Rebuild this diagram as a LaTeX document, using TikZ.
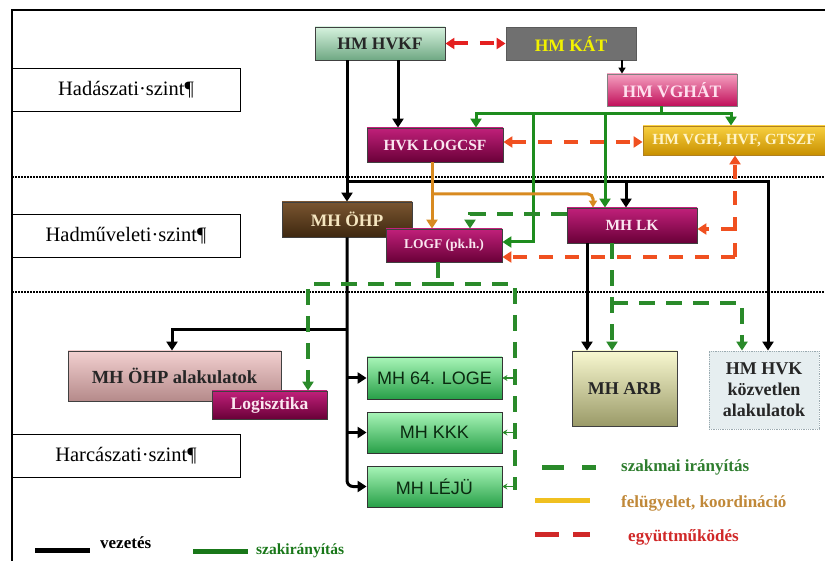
\documentclass[tikz,border=0pt]{standalone}
\usepackage{fontspec}
\setmainfont{Liberation Serif}
\newfontfamily\arialf{Liberation Sans}
\usetikzlibrary{arrows.meta,calc}
\definecolor{cVez}{HTML}{000000}
\definecolor{cSzak}{HTML}{1E8C1E}
\definecolor{cFel}{HTML}{D88A20}
\definecolor{cEgy}{HTML}{E42020}
\definecolor{cEgyB}{HTML}{F05020}
\definecolor{cSzm}{HTML}{2A8A2A}
\definecolor{hvT}{HTML}{D6F2DE}\definecolor{hvM}{HTML}{A8DDB8}\definecolor{hvB}{HTML}{6FA883}
\definecolor{katF}{HTML}{707070}\definecolor{katT}{HTML}{F2F200}
\definecolor{vgT}{HTML}{F5A0C0}\definecolor{vgM}{HTML}{EE1075}\definecolor{vgB}{HTML}{C0105A}\definecolor{vgX}{HTML}{FFE0EE}
\definecolor{mgT}{HTML}{C0207A}\definecolor{mgM}{HTML}{9A0A55}\definecolor{mgB}{HTML}{6A0038}\definecolor{mgX}{HTML}{FBE6F0}
\definecolor{yeT}{HTML}{F8D040}\definecolor{yeM}{HTML}{E8B000}\definecolor{yeB}{HTML}{C89000}\definecolor{yeX}{HTML}{FFF4C8}\definecolor{yeD}{HTML}{B08020}
\definecolor{brT}{HTML}{7A5530}\definecolor{brM}{HTML}{5A3A1A}\definecolor{brB}{HTML}{3E2810}\definecolor{brX}{HTML}{F5E6C0}
\definecolor{alT}{HTML}{F2D0D0}\definecolor{alM}{HTML}{DDAAAA}\definecolor{alB}{HTML}{B58A8A}
\definecolor{grT}{HTML}{A8F5B8}\definecolor{grM}{HTML}{50D070}\definecolor{grB}{HTML}{28A048}\definecolor{grX}{HTML}{0A2A10}
\definecolor{arT}{HTML}{F8F8D0}\definecolor{arM}{HTML}{D8D8A8}\definecolor{arB}{HTML}{9A9A68}
\definecolor{kzF}{HTML}{E6EEF0}\definecolor{kzD}{HTML}{9AAAB0}
\definecolor{lgSzm}{HTML}{2E7D2E}\definecolor{lgFel}{HTML}{C08838}\definecolor{lgEgy}{HTML}{D02828}\definecolor{lgYel}{HTML}{F0C020}
\tikzset{
  box/.style={draw=black!75, line width=0.8pt, inner sep=0pt, align=center,
    font=\bfseries\fontsize{17.5}{19.5}\selectfont},
  lvl/.style={draw=black, line width=0.8pt, fill=white, minimum width=228pt, minimum height=43pt,
    inner sep=0pt, font=\fontsize{20.5}{22}\selectfont},
  mag/.style={box, top color=mgT, middle color=mgM, bottom color=mgB, text=mgX},
  grn/.style={box, top color=grT, middle color=grM, bottom color=grB, text=grX,
    minimum width=135pt, font=\arialf\fontsize{18}{20}\selectfont, draw=black!80},
  tipA/.tip={Triangle[length=9pt,width=11pt]},
  vez/.style={draw=cVez, line width=3pt},
  szak/.style={draw=cSzak, line width=3pt},
  felug/.style={draw=cFel, line width=3pt},
  egy/.style={draw=cEgy, line width=4pt, dash pattern=on 14pt off 12pt},
  egyb/.style={draw=cEgyB, line width=3.5pt, dash pattern=on 14pt off 12pt},
  szm/.style={draw=cSzm, line width=3.5pt, dash pattern=on 16pt off 11pt},
  small/.style={draw=cSzm, line width=1.5pt, -{Stealth[length=5pt,width=6pt]}},
  leg/.style={anchor=west, inner sep=0pt, font=\bfseries\fontsize{17}{19}\selectfont}
}
\begin{document}
\begin{tikzpicture}[x=1pt,y=-1pt]
\useasboundingbox (0,0) rectangle (825,561);
% frame and level separators
\draw[line width=1.5pt] (825,10) -- (12,10) -- (12,561);
\draw[line width=2pt, dash pattern=on 1.5pt off 1.5pt] (12,177) -- (825,177);
\draw[line width=2pt, dash pattern=on 1.5pt off 1.5pt] (12,292) -- (825,292);
% level labels
\node[lvl] (l1) at (126,89.5) {Hadászati·szint¶};
\node[lvl] (l2) at (126,236) {Hadműveleti·szint¶};
\node[lvl] (l3) at (126,455.5) {Harcászati·szint¶};
% nodes
\node[box, minimum width=130pt, minimum height=33pt, top color=hvT, middle color=hvM, bottom color=hvB, text=black!85] (hvkf) at (380,43.5) {HM HVKF};
\node[box, minimum width=130pt, minimum height=33pt, fill=katF, draw=katF!80!black, text=katT] (kat) at (571,43.5) {HM KÁT};
\node[box, minimum width=130pt, minimum height=32pt, top color=vgT, middle color=vgM, bottom color=vgB, text=vgX, draw=black!50] (vghat) at (672,90) {HM VGHÁT};
\node[mag, minimum width=136pt, minimum height=34pt, font=\bfseries\fontsize{15.5}{17}\selectfont] (logcsf) at (435,145) {HVK LOGCSF};
\node[box, minimum width=182pt, minimum height=29pt, top color=yeT, middle color=yeM, bottom color=yeB, text=yeX, draw=yeD, font=\bfseries\fontsize{15.5}{17}\selectfont] (vgh) at (734,140.5) {HM VGH, HVF, GTSZF};
\node[box, minimum width=130pt, minimum height=35pt, top color=brT, middle color=brM, bottom color=brB, text=brX] (ohp) at (347,219.5) {MH ÖHP};
\node[mag, minimum width=130pt, minimum height=35pt, font=\bfseries\fontsize{15.5}{17}\selectfont] (lk) at (632,225.5) {MH LK};
\node[mag, minimum width=116pt, minimum height=33pt, font=\bfseries\fontsize{13.5}{15}\selectfont] (logf) at (444,245.5) {LOGF (pk.h.)};
\node[box, minimum width=213pt, minimum height=50pt, top color=alT, middle color=alM, bottom color=alB, text=black!85, font=\bfseries\fontsize{18.5}{20}\selectfont] (ohpal) at (174.5,376) {MH ÖHP alakulatok};
\node[mag, minimum width=115pt, minimum height=28pt] (logiszt) at (269.5,405) {Logisztika};
\node[grn, minimum height=42pt] (loge) at (434.5,378) {MH 64. LOGE};
\node[grn, minimum height=41pt] (kkk) at (434.5,432.5) {MH KKK};
\node[grn, minimum height=41pt] (leju) at (434.5,486.5) {MH LÉJÜ};
\node[box, minimum width=105pt, minimum height=75pt, top color=arT, middle color=arM, bottom color=arB, text=black!85, font=\bfseries\fontsize{18}{20}\selectfont] (arb) at (624.5,388.5) {MH ARB};
\node[box, minimum width=110pt, minimum height=78pt, fill=kzF, draw=kzD, densely dotted, text=black!85, font=\bfseries\fontsize{18}{21}\selectfont] (hvkkoz) at (764,390) {HM HVK\\közvetlen\\alakulatok};
% helper coordinates
\coordinate (xA) at (398,0);
\coordinate (b1) at (347,182);
\coordinate (xR) at (768,0);
\coordinate (b2) at (626,182);
\coordinate (xK) at (622,0);
\coordinate (xL) at (587,0);
\coordinate (t1) at (347,330);
\coordinate (xO) at (172,0);
\coordinate (g0) at (661,114);
\coordinate (gL) at (476,114);
\coordinate (gR) at (731,114);
\coordinate (g1) at (533,114);
\coordinate (yG) at (0,242);
\coordinate (g2) at (605,114);
\coordinate (xo) at (432,0);
\coordinate (o1) at (432,194);
\coordinate (xo2) at (593,0);
\coordinate (yR) at (0,142);
\coordinate (xr) at (735,0);
\coordinate (r1) at (735,257);
\coordinate (r2) at (735,229);
\coordinate (yd) at (0,214);
\coordinate (xd) at (470,0);
\coordinate (xd2) at (438,0);
\coordinate (d1) at (438,284);
\coordinate (dL) at (308,284);
\coordinate (dR) at (515,284);
\coordinate (dB) at (515,490);
\coordinate (xm) at (612,0);
\coordinate (m1) at (612,303);
\coordinate (xm2) at (742,0);
% black: vezetes
\draw[vez,-tipA] (hvkf.south -| xA) -- (logcsf.north -| xA);
\draw[vez,-tipA] (hvkf.south -| ohp.north) -- (ohp.north);
\draw[vez,-tipA] (b1) -| (hvkkoz.north -| xR);
\draw[vez,-tipA] (b2) -- (lk.north -| b2);
\draw[draw=black, line width=1.5pt, -{Triangle[length=6pt,width=7pt]}] (kat.south -| xK) -- (vghat.north -| xK);
\draw[vez,-tipA] (lk.south -| xL) -- (arb.north -| xL);
\draw[vez,-tipA,rounded corners=6pt] (ohp.south) |- (leju.west);
\draw[vez,-tipA] (ohp.south |- loge.west) -- (loge.west);
\draw[vez,-tipA] (ohp.south |- kkk.west) -- (kkk.west);
\draw[vez,-tipA] (t1) -| (ohpal.north -| xO);
% green solid: szakiranyitas
\draw[szak] (vghat.south -| g0) -- (g0);
\draw[szak,tipA-tipA] (logcsf.north -| gL) -- (gL) -- (gR) -- (vgh.north -| gR);
\draw[szak,-tipA] (g1) |- (logf.east |- yG);
\draw[szak,-tipA] (g2) -- (lk.north -| g2);
% orange: felugyelet
\draw[felug,-tipA] (logcsf.south -| xo) -- (logf.north -| xo);
\draw[felug,-{Triangle[length=7pt,width=8pt]},rounded corners=5pt] (o1) -| (lk.north -| xo2);
% red dashed: egyuttmukodes
\draw[egy,tipA-tipA] (hvkf.east) -- (kat.west);
\draw[egyb,tipA-tipA] (logcsf.east |- yR) -- (vgh.west |- yR);
\draw[egyb,-tipA] (r1) -- (vgh.south -| xr);
\draw[egyb,-tipA] (r1) -- (logf.east |- r1);
\draw[egyb,-tipA] (r2) -- (lk.east |- r2);
% green dashed: szakmai iranyitas
\draw[szm,-tipA] (lk.west |- yd) -| (logf.north -| xd);
\draw[szm] (logf.south -| xd2) -- (d1);
\draw[szm,-tipA] (d1) -- (dL) -- (logiszt.north -| dL);
\draw[szm] (d1) -- (dR) -- (dB);
\draw[small] (dR |- loge.east) -- (loge.east);
\draw[small] (dR |- kkk.east) -- (kkk.east);
\draw[small] (dR |- leju.east) -- (leju.east);
\draw[szm,-tipA] (lk.south -| xm) -- (arb.north -| xm);
\draw[szm,-tipA] (m1) -| (hvkkoz.north -| xm2);
% legend
\coordinate (lg1a) at (542,467); \coordinate (lg1b) at (596,467);
\coordinate (lg2a) at (535,500); \coordinate (lg2b) at (590,500);
\coordinate (lg3a) at (535,534); \coordinate (lg3b) at (590,534);
\coordinate (lg4a) at (35,550); \coordinate (lg4b) at (90,550);
\coordinate (lg5a) at (193,551); \coordinate (lg5b) at (248,551);
\draw[draw=cSzm, line width=5pt, dash pattern=on 22pt off 18pt] (lg1a) -- (lg1b);
\draw[draw=lgYel, line width=5pt] (lg2a) -- (lg2b);
\draw[draw=lgEgy, line width=5pt, dash pattern=on 24pt off 14pt] (lg3a) -- (lg3b);
\draw[draw=black, line width=5pt] (lg4a) -- (lg4b);
\draw[draw=cSzak!85!black, line width=5pt] (lg5a) -- (lg5b);
\node[leg, text=lgSzm] (t1l) at (621,467) {szakmai irányítás};
\node[leg, text=lgFel] (t2l) at (621,503) {felügyelet, koordináció};
\node[leg, text=lgEgy] (t3l) at (628,537) {együttműködés};
\node[leg, text=black] (t4l) at (100,543) {vezetés};
\node[leg, text=cSzak!85!black, font=\bfseries\fontsize{15.5}{17}\selectfont] (t5l) at (256,551) {szakirányítás};
\end{tikzpicture}
\end{document}
